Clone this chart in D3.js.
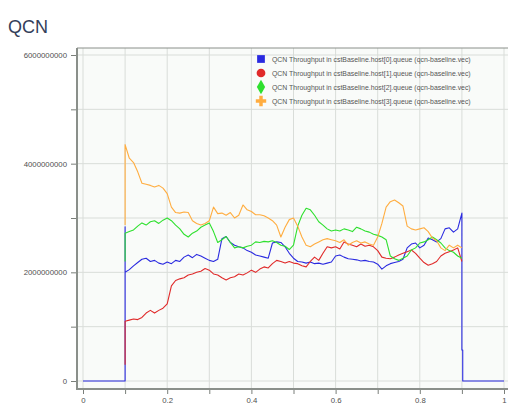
<!DOCTYPE html>
<html><head><meta charset="utf-8">
<script src="https://cdn.jsdelivr.net/npm/d3@7/dist/d3.min.js"></script>
<style>
html,body{margin:0;padding:0;background:#fff;}
svg{display:block;font-family:"Liberation Sans",Arial,sans-serif;}
</style></head><body>
<svg id="c" width="508" height="410"></svg>
<script>
// ---- data (values in units of 1e9) ----
const title = "QCN";
const seriesNames = [
  "QCN Throughput in cstBaseline.host[0].queue (qcn-baseline.vec)",
  "QCN Throughput in cstBaseline.host[1].queue (qcn-baseline.vec)",
  "QCN Throughput in cstBaseline.host[2].queue (qcn-baseline.vec)",
  "QCN Throughput in cstBaseline.host[3].queue (qcn-baseline.vec)"
];
const colors = ["#2a2ae0", "#e02a2a", "#2ee02e", "#ffad40"];
const yTickValues = [0, 1, 2, 3, 4, 5, 6];
const yTickLabels = ["0", "", "2000000000", "", "4000000000", "", "6000000000"];
const xTickValues = [0, 0.1, 0.2, 0.3, 0.4, 0.5, 0.6, 0.7, 0.8, 0.9, 1];
const xTickLabels = ["0", "", "0.2", "", "0.4", "", "0.6", "", "0.8", "", "1"];

// sample times for the main part of each vector
const times = [0.10,0.11,0.12,0.13,0.14,0.15,0.16,0.17,0.18,0.19,
  0.20,0.21,0.22,0.23,0.24,0.25,0.26,0.27,0.28,0.29,
  0.30,0.31,0.32,0.33,0.34,0.35,0.36,0.37,0.38,0.39,
  0.40,0.41,0.42,0.43,0.44,0.45,0.46,0.47,0.48,0.49,
  0.50,0.51,0.52,0.53,0.54,0.55,0.56,0.57,0.58,0.59,
  0.60,0.61,0.62,0.63,0.64,0.65,0.66,0.67,0.68,0.69,
  0.70,0.71,0.72,0.73,0.74,0.75,0.76,0.77,0.78,0.79,
  0.80,0.81,0.82,0.83,0.84,0.85,0.86,0.87,0.88,0.89,0.90];

const host0 = [2.0,2.05,2.12,2.18,2.24,2.26,2.2,2.22,2.17,2.15,
  2.19,2.16,2.22,2.2,2.28,2.32,2.27,2.33,2.3,2.26,
  2.22,2.2,2.24,2.62,2.66,2.55,2.5,2.47,2.45,2.4,
  2.37,2.32,2.3,2.28,2.26,2.54,2.56,2.55,2.47,2.35,
  2.26,2.2,2.19,2.17,2.19,2.16,2.17,2.15,2.17,2.19,
  2.3,2.32,2.28,2.25,2.24,2.23,2.21,2.22,2.2,2.19,
  2.15,2.06,2.12,2.16,2.18,2.2,2.24,2.45,2.52,2.54,
  2.45,2.5,2.63,2.6,2.56,2.62,2.8,2.82,2.74,2.8,3.09];
const host1 = [1.1,1.12,1.14,1.13,1.17,1.25,1.3,1.25,1.3,1.34,
  1.42,1.75,1.85,1.88,1.9,1.95,1.97,2.0,2.02,2.07,
  2.04,1.97,1.95,1.9,1.86,1.9,1.92,1.97,1.95,1.99,
  2.04,2.0,2.06,2.1,2.08,2.16,2.22,2.2,2.17,2.2,
  2.17,2.16,2.12,2.1,2.2,2.28,2.22,2.35,2.47,2.45,
  2.47,2.43,2.56,2.52,2.5,2.47,2.52,2.48,2.5,2.47,
  2.4,2.28,2.26,2.25,2.28,2.32,2.35,2.38,2.41,2.35,
  2.26,2.18,2.13,2.16,2.2,2.3,2.35,2.38,2.41,2.45,2.2];
const host2 = [2.72,2.75,2.78,2.85,2.91,2.87,2.93,2.95,2.9,2.96,
  3.0,2.95,2.87,2.8,2.7,2.65,2.72,2.76,2.83,2.87,
  2.91,2.75,2.55,2.6,2.66,2.55,2.45,2.47,2.45,2.48,
  2.5,2.56,2.55,2.57,2.56,2.58,2.55,2.5,2.48,2.42,
  2.5,2.85,3.05,3.18,3.15,3.05,2.93,2.87,2.8,2.76,
  2.78,2.76,2.8,2.78,2.75,2.83,2.8,2.76,2.74,2.7,
  2.68,2.65,2.6,2.3,2.25,2.22,2.26,2.3,2.41,2.45,
  2.54,2.56,2.6,2.65,2.6,2.54,2.45,2.4,2.37,2.3,2.26];
const host3 = [4.35,4.1,4.02,3.85,3.64,3.62,3.6,3.57,3.6,3.55,
  3.45,3.2,3.1,3.09,3.11,3.1,2.95,2.9,2.87,2.9,
  2.95,3.2,3.08,3.09,3.05,3.1,3.0,3.05,3.24,3.15,
  3.12,3.06,3.06,3.04,3.0,2.95,2.87,2.65,2.83,2.97,
  3.0,2.85,2.65,2.5,2.47,2.52,2.56,2.6,2.62,2.6,
  2.58,2.55,2.6,2.5,2.55,2.58,2.54,2.56,2.52,2.5,
  2.65,2.9,3.2,3.3,3.33,3.28,3.22,2.85,2.8,2.78,
  2.8,2.82,2.75,2.63,2.58,2.45,2.4,2.5,2.45,2.5,2.45];

// leading / trailing samples [time, value]
const host0Head = [[0, 0], [0.1, 0], [0.1, 2.84]];
const host0Tail = [[0.9, 0.57], [0.902, 0.57], [0.902, 0], [1.0, 0]];
const host1Head = [[0.1, 0.3]];
const host2Head = [[0.1, 2.2]];
const host3Head = [[0.1, 2.87]];

const seriesValues = [host0, host1, host2, host3];
const heads = [host0Head, host1Head, host2Head, host3Head];
const tails = [host0Tail, [], [], []];

// ---- drawing ----
const svg = d3.select("#c");
const frame = {left: 77, top: 48, right: 508, bottom: 389};
const x = d3.scaleLinear().domain([0, 1]).range([83, 504]);
const y = d3.scaleLinear().domain([0, 6]).range([381, 55]);

svg.append("text").attr("x", 8).attr("y", 33)
  .attr("font-size", 18).attr("fill", "#34405a").text(title);

// plot background
svg.append("rect").attr("x", frame.left).attr("y", frame.top)
  .attr("width", frame.right - frame.left).attr("height", frame.bottom - frame.top)
  .attr("fill", "#f9fbf9");

// grid
const grid = svg.append("g");
grid.selectAll("line.v").data(xTickValues).join("line")
  .attr("x1", d => x(d)).attr("x2", d => x(d))
  .attr("y1", frame.top).attr("y2", frame.bottom)
  .attr("stroke", "#d9ddd9").attr("stroke-width", 1);
grid.selectAll("line.h").data(yTickValues).join("line")
  .attr("x1", frame.left).attr("x2", frame.right)
  .attr("y1", d => y(d)).attr("y2", d => y(d))
  .attr("stroke", "#d9ddd9").attr("stroke-width", 1);

// lines
const line = d3.line().x(d => x(d[0])).y(d => y(d[1]));
seriesValues.forEach((vals, i) => {
  const pts = heads[i].concat(times.map((t, k) => [t, vals[k]])).concat(tails[i]);
  svg.append("path").datum(pts)
    .attr("d", line).attr("fill", "none")
    .attr("stroke", colors[i]).attr("stroke-width", 1.1)
    .attr("stroke-linejoin", "round");
});

// frame
svg.append("line").attr("x1", frame.left).attr("x2", frame.right)
  .attr("y1", frame.top).attr("y2", frame.top).attr("stroke", "#8a8f8a").attr("stroke-width", 1);

// axes
const yAxis = d3.axisLeft(y).tickValues(yTickValues)
  .tickFormat((d, i) => yTickLabels[i]).tickSize(6).tickPadding(4);
const gy = svg.append("g").attr("transform", `translate(${frame.left},0)`).call(yAxis);
const xAxis = d3.axisBottom(x).tickValues(xTickValues)
  .tickFormat((d, i) => xTickLabels[i]).tickSize(5).tickPadding(3);
const gx = svg.append("g").attr("transform", `translate(0,${frame.bottom})`).call(xAxis);
[gy, gx].forEach(g => {
  g.select(".domain").remove();
  g.selectAll(".tick line").attr("stroke", "#7a7f7a");
  g.selectAll(".tick text").attr("fill", "#505050").attr("font-size", 7.8)
    .attr("font-family", "'Liberation Sans', Arial, sans-serif");
});
svg.append("line").attr("x1", frame.left).attr("x2", frame.left)
  .attr("y1", frame.top).attr("y2", frame.bottom + 1).attr("stroke", "#8a8f8a").attr("stroke-width", 2);
svg.append("line").attr("x1", frame.left).attr("x2", frame.right)
  .attr("y1", frame.bottom).attr("y2", frame.bottom).attr("stroke", "#8a8f8a").attr("stroke-width", 2);

// legend
const lg = svg.append("g");
const symbols = [d3.symbolSquare, d3.symbolCircle, d3.symbolDiamond, d3.symbolCross];
seriesNames.forEach((name, i) => {
  const cy = 59 + i * 14;
  lg.append("path").attr("transform", `translate(261,${cy})`)
    .attr("d", d3.symbol().type(symbols[i]).size(60)())
    .attr("fill", colors[i]);
  lg.append("text").attr("x", 272).attr("y", cy + 2.5)
    .attr("font-size", 6.9).attr("fill", "#555").text(name);
});
</script>
</body></html>
